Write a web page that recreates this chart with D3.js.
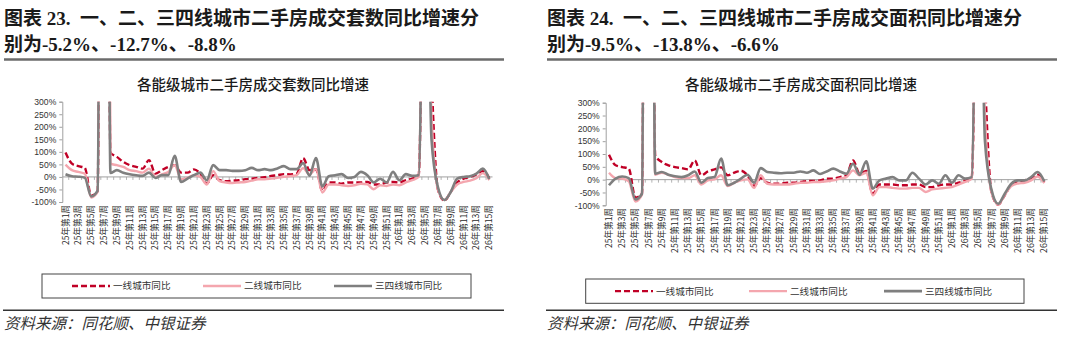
<!DOCTYPE html>
<html>
<head>
<meta charset="utf-8">
<script src="https://cdn.jsdelivr.net/npm/d3@7"></script>
<style>
  html, body { margin: 0; padding: 0; background: #fff; }
  svg { display: block; }
  text { white-space: pre; }
</style>
</head>
<body>
<svg id="chart" width="1080" height="341"></svg>
<script>
// Weekly categories: 2025 weeks 1–52, 2026 weeks 1–15
const weeks = [
  "25年第1周","25年第2周","25年第3周","25年第4周","25年第5周","25年第6周","25年第7周","25年第8周",
  "25年第9周","25年第10周","25年第11周","25年第12周","25年第13周","25年第14周","25年第15周","25年第16周",
  "25年第17周","25年第18周","25年第19周","25年第20周","25年第21周","25年第22周","25年第23周","25年第24周",
  "25年第25周","25年第26周","25年第27周","25年第28周","25年第29周","25年第30周","25年第31周","25年第32周",
  "25年第33周","25年第34周","25年第35周","25年第36周","25年第37周","25年第38周","25年第39周","25年第40周",
  "25年第41周","25年第42周","25年第43周","25年第44周","25年第45周","25年第46周","25年第47周","25年第48周",
  "25年第49周","25年第50周","25年第51周","25年第52周",
  "26年第1周","26年第2周","26年第3周","26年第4周","26年第5周","26年第6周","26年第7周","26年第8周",
  "26年第9周","26年第10周","26年第11周","26年第12周","26年第13周","26年第14周","26年第15周"
];

// Axis ticks (percent)
const yTicks = [-100, -50, 0, 50, 100, 150, 200, 250, 300];

const seriesNames = ["一线城市同比", "二线城市同比", "三四线城市同比"];

// Second-hand home deals (units), YoY %
const tier1Deals = [97,53,43,36,-75,-60,5800,97,80,60,47,40,33,67,13,27,40,47,17,17,30,13,-27,7,-13,-17,-15,-13,-9,-7,-4,-1,4,7,11,10,13,75,27,30,-55,-22,-22,-27,-22,-22,-22,-20,-30,-30,-22,-20,-22,-13,-7,7,1200,400,-50,-95,-60,-22,-7,0,10,23,-5.2];
const tier2Deals = [49,27,20,13,-82,-60,5900,53,47,40,27,23,17,33,0,10,20,47,-9,-4,7,0,-30,23,-17,-22,-24,-22,-20,-15,-9,-9,-7,-4,0,3,7,35,10,31,-62,-30,-30,-33,-36,-33,-27,-30,-49,-33,-36,-30,-33,-22,-13,0,1300,250,-50,-92,-60,-30,-20,-15,-5,15,-12.7];
const tier34Deals = [11,3,1,-3,-78,-55,6000,16,27,17,11,7,4,17,-4,7,7,84,-20,-7,7,17,-13,47,27,27,24,24,27,36,27,31,27,34,43,31,31,55,5,75,-38,3,7,11,-4,0,20,7,-22,-7,-22,20,-13,11,4,7,1400,150,-40,-92,-60,-7,0,3,13,33,-8.8];

// Second-hand home deals (floor area), YoY %
const tier1Area = [97,56,49,43,-70,-55,5800,95,69,56,49,45,40,75,17,32,40,48,17,27,35,17,-25,6,-12,-16,-16,-12,-12,-9,-6,-5,-3,4,4,10,17,75,23,34,-55,-19,-19,-19,-22,-22,-19,-19,-29,-29,-22,-19,-19,-12,-3,10,1200,400,-50,-97,-61,-19,-6,-3,6,19,-9.5];
const tier2Area = [27,6,4,-6,-85,-59,5900,19,27,19,10,6,6,17,-19,-3,1,17,-25,-12,-3,1,-32,17,-16,-19,-19,-19,-16,-12,-12,-9,-9,-6,-3,4,10,36,17,27,-61,-29,-29,-32,-35,-35,-32,-32,-48,-38,-35,-32,-29,-19,-9,4,1300,250,-50,-97,-60,-25,-15,-12,-3,12,-13.8];
const tier34Area = [-22,4,12,6,-77,-55,6000,23,30,19,13,10,17,32,-12,6,10,82,-22,-12,4,19,-12,45,30,27,25,27,27,32,27,36,22,32,43,32,23,62,19,72,-35,-3,4,10,-3,-3,27,4,-19,-3,-16,17,-12,17,4,10,1400,150,-40,-94,-55,-16,-3,-3,10,30,-6.6];

const seriesColors = ["#C00026", "#F4A6AE", "#7F7F7F"];
const seriesDash = ["6,3", null, null];
const seriesWidth = [2.4, 2.4, 2.6];

const svg = d3.select("#chart");
svg.append("rect").attr("width", 1080).attr("height", 341).attr("fill", "#fff");

const cjk = "'Noto Sans CJK SC', 'Noto Sans', sans-serif";
const headFont = "'Liberation Serif', 'Noto Sans CJK SC', serif";

function drawPanel(p) {
  const g = svg.append("g");

  // Heading
  g.append("text").attr("x", p.ox + 4).attr("y", 24.5)
    .attr("font-family", headFont).attr("font-weight", "bold")
    .attr("font-size", 19).attr("fill", "#1a1a1a").text(p.head1);
  g.append("text").attr("x", p.ox + 4).attr("y", 50.5)
    .attr("font-family", headFont).attr("font-weight", "bold")
    .attr("font-size", 19).attr("fill", "#1a1a1a").text(p.head2);
  g.append("line").attr("x1", p.ox + 4).attr("x2", p.ruleEnd)
    .attr("y1", 59.5).attr("y2", 59.5)
    .attr("stroke", "#6b6b6b").attr("stroke-width", 2.4);

  // Chart title
  g.append("text").attr("x", p.titleX).attr("y", 90)
    .attr("text-anchor", "middle").attr("font-family", cjk).attr("font-weight", 500)
    .attr("font-size", 14.5).attr("fill", "#1a1a1a").text(p.title);

  const band = d3.scaleBand().domain(weeks).range([p.x0, p.x1]);
  const xc = d => band(d) + band.bandwidth() / 2;
  const y = d3.scaleLinear().domain([-100, 300]).range([p.yBot, p.yTop]);

  // Y axis
  const yAxis = g.append("g").attr("transform", `translate(${p.x0},0)`)
    .call(d3.axisLeft(y).tickValues(yTicks).tickSize(3).tickPadding(3)
      .tickFormat(d => d + "%"));
  yAxis.select(".domain").attr("stroke", "#a0a0a0");
  yAxis.selectAll(".tick line").attr("stroke", "#a0a0a0");
  yAxis.selectAll(".tick text").attr("font-family", "'Liberation Sans', Arial, sans-serif")
    .attr("font-size", 8.6).attr("fill", "#333");

  // Zero line with category boundary ticks
  g.append("line").attr("x1", p.x0).attr("x2", p.x1)
    .attr("y1", y(0)).attr("y2", y(0)).attr("stroke", "#a0a0a0").attr("stroke-width", 1);
  g.append("g").selectAll("line").data(weeks.slice(1)).join("line")
    .attr("x1", d => band(d)).attr("x2", d => band(d))
    .attr("y1", y(0)).attr("y2", y(0) + 3)
    .attr("stroke", "#a0a0a0").attr("stroke-width", 0.8);

  // Category labels, every other week, rotated
  g.append("g").selectAll("text").data(weeks.filter((d, i) => i % 2 === 0)).join("text")
    .attr("transform", d => `translate(${xc(d)},${p.labelTop}) rotate(-90)`)
    .attr("text-anchor", "end").attr("dy", "0.35em")
    .attr("font-family", cjk).attr("font-size", 8.6).attr("fill", "#2a2a2a")
    .text(d => d);

  // Series lines, clipped to the plot area
  const clipId = "clip-" + p.id;
  g.append("clipPath").attr("id", clipId).append("rect")
    .attr("x", p.x0).attr("y", p.yTop).attr("width", p.x1 - p.x0).attr("height", p.yBot - p.yTop + 4);
  const line = d3.line().x((d, i) => xc(weeks[i])).y(d => y(d))
    .curve(d3.curveMonotoneX);
  const lines = g.append("g").attr("clip-path", `url(#${clipId})`);
  p.series.forEach((s, k) => {
    lines.append("path").datum(s).attr("d", line)
      .attr("fill", "none").attr("stroke", seriesColors[k])
      .attr("stroke-width", seriesWidth[k])
      .attr("stroke-dasharray", seriesDash[k])
      .attr("stroke-linejoin", "round");
  });

  // Legend
  const L = p.legend;
  g.append("rect").attr("x", L.x).attr("y", L.y).attr("width", L.w).attr("height", L.h)
    .attr("fill", "none").attr("stroke", "#444").attr("stroke-width", 1);
  const cy = L.y + L.h / 2;
  seriesNames.forEach((name, k) => {
    const sx = L.items[k];
    g.append("line").attr("x1", sx).attr("x2", sx + 38).attr("y1", cy).attr("y2", cy)
      .attr("stroke", seriesColors[k]).attr("stroke-width", seriesWidth[k])
      .attr("stroke-dasharray", seriesDash[k]);
    g.append("text").attr("x", sx + 41).attr("y", cy).attr("dy", "0.36em")
      .attr("font-family", cjk).attr("font-size", 9.6).attr("fill", "#333").text(name);
  });

  // Source note
  g.append("line").attr("x1", p.ox + 3).attr("x2", p.ruleEnd)
    .attr("y1", 310.3).attr("y2", 310.3).attr("stroke", "#333").attr("stroke-width", 1.4);
  g.append("text").attr("x", p.ox + 4).attr("y", 329)
    .attr("font-family", cjk).attr("font-style", "italic")
    .attr("font-size", 15.5).attr("fill", "#333").text("资料来源：同花顺、中银证券");
}

drawPanel({
  id: "deals", ox: 0, ruleEnd: 504,
  head1: "图表 23.  一、二、三四线城市二手房成交套数同比增速分",
  head2: "别为-5.2%、-12.7%、-8.8%",
  title: "各能级城市二手房成交套数同比增速", titleX: 253,
  x0: 62.3, x1: 492.5, yTop: 101.7, yBot: 202, labelTop: 205,
  series: [tier1Deals, tier2Deals, tier34Deals],
  legend: { x: 42, y: 274, w: 429, h: 24, items: [72, 203, 334] }
});

drawPanel({
  id: "area", ox: 543, ruleEnd: 1057,
  head1: "图表 24.  一、二、三四线城市二手房成交面积同比增速分",
  head2: "别为-9.5%、-13.8%、-6.6%",
  title: "各能级城市二手房成交面积同比增速", titleX: 801,
  x0: 605.7, x1: 1047.6, yTop: 102.7, yBot: 205.3, labelTop: 208,
  series: [tier1Area, tier2Area, tier34Area],
  legend: { x: 585.7, y: 279, w: 438.3, h: 24.3, items: [615, 749, 884] }
});
</script>
</body>
</html>
